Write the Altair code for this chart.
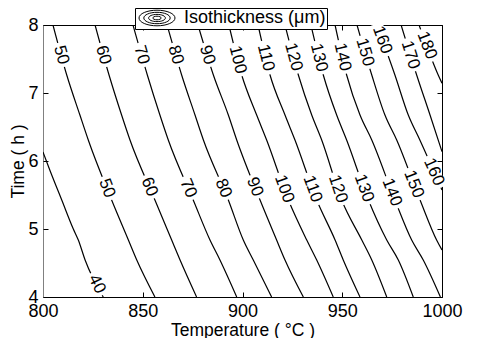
import math
import altair as alt
import pandas as pd

# ---- data ----
LEVELS = [40, 50, 60, 70, 80, 90, 100, 110, 120, 130, 140, 150, 160, 170, 180]

LINE_TIMES = [
    [6.132, 5.868, 5.426, 5.0, 4.838, 4.544, 4.0],
    [8.0, 7.265, 6.676, 6.309, 5.426, 4.838, 4.544, 4.0],
    [8.0, 7.265, 6.676, 6.309, 5.426, 4.838, 4.544, 4.0],
    [8.0, 7.265, 6.676, 6.309, 5.426, 4.838, 4.544, 4.0],
    [8.0, 7.265, 6.676, 6.309, 5.426, 4.838, 4.544, 4.0],
    [8.0, 7.265, 6.676, 6.309, 5.426, 4.838, 4.544, 4.0],
    [8.0, 7.265, 6.676, 6.309, 5.426, 4.838, 4.544, 4.0],
    [8.0, 7.265, 6.676, 6.309, 5.426, 4.838, 4.544, 4.0],
    [8.0, 7.265, 6.676, 6.309, 5.426, 4.838, 4.544, 4.0],
    [8.0, 7.265, 6.676, 6.309, 5.426, 4.838, 4.544, 4.0],
    [8.0, 7.265, 6.676, 6.309, 5.426, 4.838, 4.544, 4.0],
    [8.0, 7.265, 6.676, 6.309, 5.426, 4.838, 4.691],
    [8.0, 7.265, 6.676, 6.309, 5.574],
    [8.0, 7.265, 6.676, 6.137],
    [8.0, 7.265, 7.143],
]

LINE_TEMPS = [
    [800.0, 803.4, 809.4, 815.2, 817.7, 821.1, 830.2],
    [805.0, 811.9, 818.5, 822.7, 834.4, 842.8, 847.0, 856.1],
    [826.1, 833.1, 839.4, 843.6, 856.1, 864.5, 868.7, 877.0],
    [845.1, 852.3, 858.6, 862.8, 875.3, 883.7, 888.7, 897.1],
    [862.2, 869.5, 876.2, 880.4, 892.9, 900.4, 905.4, 914.6],
    [877.7, 885.4, 892.9, 897.1, 908.8, 917.1, 921.3, 930.5],
    [893.2, 899.6, 907.1, 912.1, 923.0, 932.2, 937.2, 945.5],
    [907.8, 913.8, 921.3, 926.3, 937.2, 946.4, 950.5, 958.9],
    [921.3, 928.0, 934.7, 939.7, 949.7, 959.8, 964.8, 972.3],
    [934.3, 940.5, 947.2, 952.2, 963.1, 972.3, 978.1, 985.6],
    [946.4, 952.2, 958.9, 964.8, 976.4, 984.8, 990.6, 999.2],
    [957.4, 964.8, 971.4, 977.3, 989.0, 997.3, 1000.0],
    [967.4, 976.4, 983.1, 988.9, 1000.0],
    [979.5, 987.3, 994.0, 1000.0],
    [988.5, 998.1, 1000.0],
]

# contour labels: level and the time at which the label sits on its line
LABEL_LEVELS = [50, 60, 70, 80, 90, 100, 110, 120, 130, 140, 150, 160, 170, 180,
                40, 50, 60, 70, 80, 90, 100, 110, 120, 130, 140, 150, 160]
LABEL_TIMES = [7.56, 7.56, 7.56, 7.56, 7.56, 7.49, 7.52, 7.53, 7.52, 7.53, 7.6, 7.78, 7.56, 7.7,
               4.19, 5.6, 5.62, 5.6, 5.6, 5.62, 5.59, 5.59, 5.59, 5.6, 5.54, 5.66, 5.84]

X_TICKS = [800, 850, 900, 950, 1000]
Y_TICKS = [4, 5, 6, 7, 8]
LEGEND_NAME = "Isothickness (μm)"

# ---- layout ----
W, H = 399, 272
X_DOM, Y_DOM = [800, 1000], [4, 8]
FONT = "Liberation Sans"
FS = 18
TITLE_FS = 17.5
LABEL_FS = 17

rows = []
for lev, ts, xs in zip(LEVELS, LINE_TIMES, LINE_TEMPS):
    for t, x in zip(ts, xs):
        rows.append({"level": lev, "time": t, "temp": x, "name": LEGEND_NAME})
lines_df = pd.DataFrame(rows)


def on_line(level, t):
    i = LEVELS.index(level)
    ts, xs = LINE_TIMES[i], LINE_TEMPS[i]
    for k in range(len(ts) - 1):
        t0, t1 = ts[k], ts[k + 1]
        if t1 <= t <= t0:
            f = (t0 - t) / (t0 - t1)
            temp = xs[k] + f * (xs[k + 1] - xs[k])
            dTdt = (xs[k + 1] - xs[k]) / (t1 - t0)
            dxdy = -dTdt * (W / (X_DOM[1] - X_DOM[0])) / (H / (Y_DOM[1] - Y_DOM[0]))
            ang = math.degrees(math.atan2(1.0, dxdy))
            return temp, ang
    return xs[-1], 70.0


lab_rows = []
for lev, t in zip(LABEL_LEVELS, LABEL_TIMES):
    temp, ang = on_line(lev, t)
    n = len(str(lev))
    w = n * 0.556 * LABEL_FS + 6
    lab_rows.append({"level": lev, "txt": str(lev), "time": t, "temp": temp,
                     "ang": ang, "sz": w * w})
labels_df = pd.DataFrame(lab_rows)

x_scale = alt.Scale(domain=X_DOM, nice=False, zero=False)
y_scale = alt.Scale(domain=Y_DOM, nice=False, zero=False)

common_axis = dict(grid=False, labelFont=FONT, titleFont=FONT, labelColor="black",
                   titleColor="black", tickColor="black", titleFontWeight="normal")

# ellipse icon for the legend (unit = sqrt(size)/2 px)
rings = [(3.0, 1.3), (2.2, 0.95), (1.4, 0.6), (0.7, 0.3)]
ICON = "".join(
    f"M{2 - rx} 0A{rx} {ry} 0 1 0 {2 + rx} 0A{rx} {ry} 0 1 0 {2 - rx} 0Z" for rx, ry in rings
)
RECT = "M-1 -0.35L1 -0.35L1 0.35L-1 0.35Z"

lines = alt.Chart(lines_df).mark_line(strokeWidth=1.2, clip=True, interpolate="monotone").encode(
    x=alt.X("temp:Q", scale=x_scale,
            axis=alt.Axis(orient="bottom", values=X_TICKS, format="d", title="Temperature ( °C )",
                          ticks=False, tickSize=0, labelPadding=5, labelFontSize=FS,
                          titleFontSize=TITLE_FS, titlePadding=1, domainColor="black",
                          labelFlush=False, **common_axis)),
    y=alt.Y("time:Q", scale=y_scale,
            axis=alt.Axis(orient="left", values=Y_TICKS, title="Time ( h )",
                          ticks=False, tickSize=0, labelPadding=5, labelFontSize=FS,
                          titleFontSize=TITLE_FS, titlePadding=0, domainColor="#808080",
                          labelFlush=False, **common_axis)),
    detail="level:N",
    order="temp:Q",
    color=alt.Color("name:N", scale=alt.Scale(range=["black"]),
                    legend=alt.Legend(title=None, orient="none", legendX=92, legendY=-17,
                                      padding=1, strokeColor="black", fillColor="white",
                                      symbolType=ICON, symbolSize=144, symbolStrokeWidth=1,
                                      symbolStrokeColor="black", symbolFillColor="transparent",
                                      labelFont=FONT, labelFontSize=FS, labelColor="black",
                                      labelOffset=30, cornerRadius=0)),
)

bg = alt.Chart(labels_df).mark_point(shape=RECT, filled=True, fill="white", opacity=1,
                                     strokeWidth=0).encode(
    x=alt.X("temp:Q", scale=x_scale,
            axis=alt.Axis(orient="top", offset=-H, values=X_TICKS, labels=False, domain=False,
                          ticks=True, tickSize=5, title=None, **common_axis)),
    y=alt.Y("time:Q", scale=y_scale,
            axis=alt.Axis(orient="right", offset=-W, values=Y_TICKS, labels=False, domain=False,
                          ticks=True, tickSize=5, title=None, **common_axis)),
    angle=alt.Angle("ang:Q", scale=None),
    size=alt.Size("sz:Q", scale=None),
)

txt = alt.Chart(labels_df).mark_text(font=FONT, fontSize=LABEL_FS, color="black",
                                     align="center", baseline="middle").encode(
    x=alt.X("temp:Q", scale=x_scale,
            axis=alt.Axis(orient="bottom", offset=-H, values=X_TICKS, labels=False, domain=True,
                          domainColor="black", ticks=True, tickSize=5, title=None, **common_axis)),
    y=alt.Y("time:Q", scale=y_scale,
            axis=alt.Axis(orient="left", offset=-W, values=Y_TICKS, labels=False, domain=True,
                          domainColor="black", ticks=True, tickSize=5, title=None, **common_axis)),
    angle=alt.Angle("ang:Q", scale=None),
    text="txt:N",
)

chart = alt.layer(lines, bg, txt).resolve_axis(x="independent", y="independent").properties(
    width=W, height=H, autosize="none",
    padding={"left": 35, "top": 17, "right": 25, "bottom": 41},
).configure_view(stroke=None).configure(background="white")

chart.save("out.html", embed_options={"renderer": "svg", "actions": False})
